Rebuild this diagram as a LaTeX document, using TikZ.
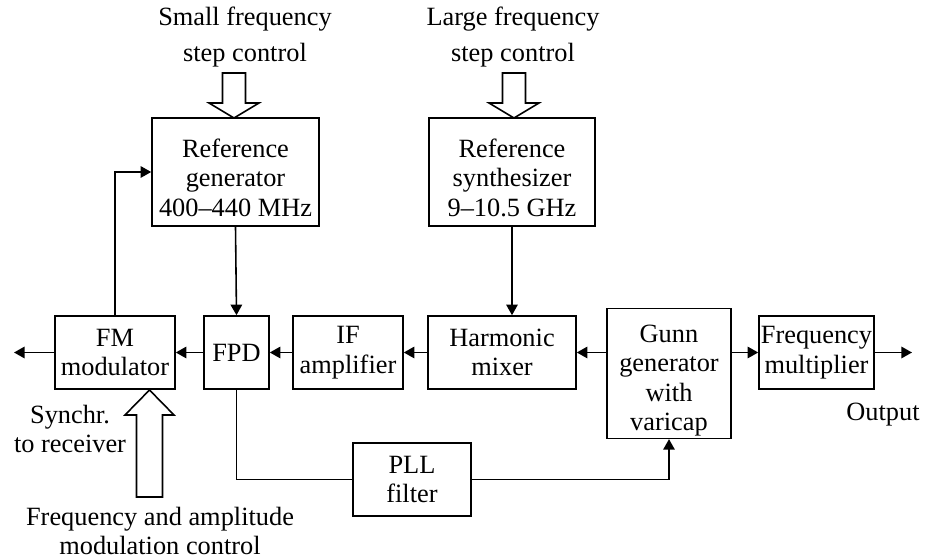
\documentclass[tikz,border=0pt]{standalone}
\usepackage{fontspec}
\setmainfont{Liberation Serif}
\usetikzlibrary{arrows.meta}
\newcommand{\dropA}{\rule{0pt}{0.6cm}}
\newcommand{\dropB}{\rule{0pt}{0.64cm}}
\begin{document}
\begin{tikzpicture}[x=0.02cm,y=-0.02cm,
  font=\fontsize{15}{16.8}\selectfont,
  line width=0.9pt,
  box/.style n args={2}{draw, align=center, inner sep=1pt,
     minimum width=#1*0.02cm, minimum height=#2*0.02cm},
  arr/.style={-{Triangle[length=6pt,width=6.5pt]}},
  lbl/.style={align=center, inner sep=0pt},
  hollow/.style={draw, line join=miter, fill=white}]
\useasboundingbox (0,0) rectangle (948,560);

% blocks
\node[box={167}{108}] (refgen) at (235.5,172) {\dropA Reference\\generator\\400--440 MHz};
\node[box={166}{108}] (synth)  at (512,172) {\dropA Reference\\synthesizer\\9--10.5 GHz};
\node[box={120}{73}]  (fm)     at (115,352.5) {FM\\modulator};
\node[box={65}{73}]   (fpd)    at (236.5,352.5) {FPD};
\node[box={110}{73}]  (ifa)    at (348,352.5) {IF\\amplifier};
\node[box={148}{73}]  (mix)    at (502,352.5) {Harmonic\\mixer};
\node[box={124}{127}] (gunn)   at (669,373.5) {\dropB Gunn\\generator\\with\\varicap};
\node[box={115}{73}]  (mult)   at (816.5,352.5) {Frequency\\multiplier};
\node[box={118}{73}]  (pll)    at (412,479.5) {PLL\\filter};

% labels
\node[lbl, font=\fontsize{15}{21}\selectfont] (lsmall) at (245,37) {Small frequency\\step control};
\node[lbl, font=\fontsize{15}{21}\selectfont] (llarge) at (513,37) {Large frequency\\step control};
\node[lbl] (lsync) at (70,429) {Synchr.\\to receiver};
\node[lbl] (lout) at (883,415) {Output};
\node[lbl] (lmod) at (160,531) {Frequency and amplitude\\modulation control};

\coordinate (outL) at (14,352.5);
\coordinate (outR) at (912,352.5);

% connectors
\draw[arr] (refgen.south) -- (fpd.north);
\draw[arr] (synth.south) -- (synth.south |- mix.north);
\draw[arr] (gunn.west |- mix.east) -- (mix.east);
\draw[arr] (mix.west) -- (ifa.east);
\draw[arr] (ifa.west) -- (fpd.east);
\draw[arr] (fpd.west) -- (fm.east);
\draw[arr] (fm.west) -- (outL);
\draw[arr] (gunn.east |- mult.west) -- (mult.west);
\draw[arr] (mult.east) -- (outR);
\draw[arr] (fm.north) |- (refgen.west);
\draw (fpd.south) |- (pll.west);
\draw[arr] (pll.east) -| (gunn.south);

% hollow arrows
\draw[hollow] (222.5,73) -- (245.5,73) -- (245.5,103) -- (259,103) -- (234,118) -- (209,103) -- (222.5,103) -- cycle;
\draw[hollow] (502.5,73) -- (525.5,73) -- (525.5,103) -- (539,103) -- (514,118) -- (489,103) -- (502.5,103) -- cycle;
\draw[hollow] (136.5,497) -- (162.5,497) -- (162.5,415) -- (174,415) -- (149.5,390) -- (125,415) -- (136.5,415) -- cycle;
\end{tikzpicture}
\end{document}
